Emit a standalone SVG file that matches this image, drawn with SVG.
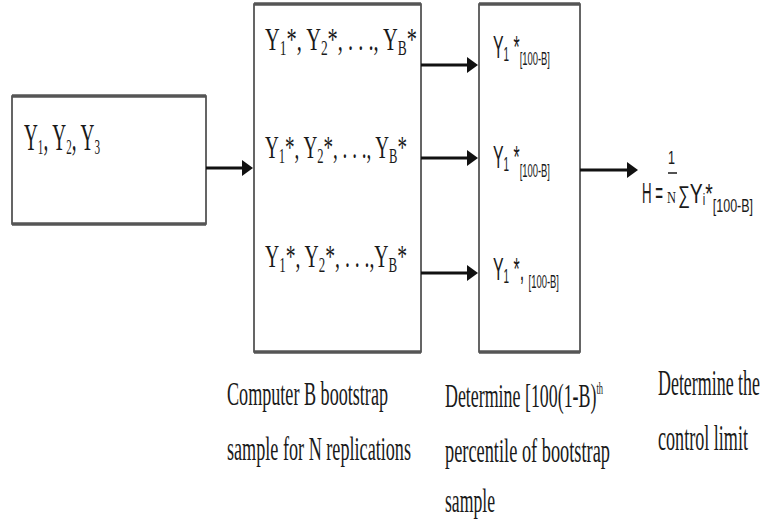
<svg xmlns="http://www.w3.org/2000/svg" width="763" height="527" viewBox="0 0 763 527">
<style>
.box{fill:#fff;stroke:#333;stroke-width:1.5}
.edge{stroke:#555;stroke-width:3.5}
.conn{stroke:#111;stroke-width:3;fill:none}
.serif{font-family:"Liberation Serif","Times New Roman",serif;fill:#1a1a1a}
.sans{font-family:"Liberation Sans",Arial,sans-serif;fill:#1a1a1a}
</style>
<defs>
<marker id="ah" viewBox="0 0 11 16" refX="1" refY="8" markerWidth="11" markerHeight="16" markerUnits="userSpaceOnUse" orient="auto">
<path d="M0,0 L11,8 L0,16 z" fill="#111"/>
</marker>
</defs>
<rect width="763" height="527" fill="#fff"/>

<g id="input">
<rect class="box" x="12" y="96" width="194" height="128"/>
<line class="edge" x1="12" y1="96" x2="206" y2="96"/>
<line class="edge" x1="12" y1="224" x2="206" y2="224"/>
<text class="serif" x="24" y="150" font-size="38" textLength="76" lengthAdjust="spacingAndGlyphs">Y<tspan font-size="22" dy="4">1</tspan><tspan dy="-4">, Y</tspan><tspan font-size="22" dy="4">2</tspan><tspan dy="-4">, Y</tspan><tspan font-size="22" dy="4">3</tspan></text>
</g>

<g id="bootstrap">
<rect class="box" x="254" y="4" width="167" height="348"/>
<line class="edge" x1="254" y1="4" x2="421" y2="4"/>
<line class="edge" x1="254" y1="352" x2="421" y2="352"/>
<text class="serif" x="265" y="50" font-size="32" textLength="152" lengthAdjust="spacingAndGlyphs">Y<tspan font-size="21" dy="5">1</tspan><tspan dy="-5">*, Y</tspan><tspan font-size="21" dy="5">2</tspan><tspan dy="-5">*, . . ., Y</tspan><tspan font-size="21" dy="5">B</tspan><tspan dy="-5">*</tspan></text>
<text class="serif" x="265" y="158" font-size="32" textLength="142" lengthAdjust="spacingAndGlyphs">Y<tspan font-size="21" dy="5">1</tspan><tspan dy="-5">*, Y</tspan><tspan font-size="21" dy="5">2</tspan><tspan dy="-5">*, . . ., Y</tspan><tspan font-size="21" dy="5">B</tspan><tspan dy="-5">*</tspan></text>
<text class="serif" x="265" y="267" font-size="32" textLength="142" lengthAdjust="spacingAndGlyphs">Y<tspan font-size="21" dy="5">1</tspan><tspan dy="-5">*, Y</tspan><tspan font-size="21" dy="5">2</tspan><tspan dy="-5">*, . . .,Y</tspan><tspan font-size="21" dy="5">B</tspan><tspan dy="-5">*</tspan></text>
</g>

<g id="percentile">
<rect class="box" x="479" y="4" width="101" height="348"/>
<line class="edge" x1="479" y1="4" x2="580" y2="4"/>
<line class="edge" x1="479" y1="352" x2="580" y2="352"/>
<text class="sans" x="493" y="58" font-size="32" textLength="57" lengthAdjust="spacingAndGlyphs">Y<tspan font-size="20" dy="3">1</tspan><tspan dy="-3"> *</tspan><tspan font-size="19" dy="7">[100-B]</tspan></text>
<text class="sans" x="493" y="168" font-size="32" textLength="57" lengthAdjust="spacingAndGlyphs">Y<tspan font-size="20" dy="3">1</tspan><tspan dy="-3"> *</tspan><tspan font-size="19" dy="9">[100-B]</tspan></text>
<text class="sans" x="493" y="280" font-size="32" textLength="66" lengthAdjust="spacingAndGlyphs">Y<tspan font-size="20" dy="3">1</tspan><tspan dy="-3"> *, </tspan><tspan font-size="19" dy="8">[100-B]</tspan></text>
</g>

<g id="formula">
<text class="sans" x="668" y="164" font-size="18" textLength="7" lengthAdjust="spacingAndGlyphs">1</text>
<line x1="668" y1="173" x2="677" y2="173" stroke="#1a1a1a" stroke-width="1.5"/>
<text class="sans" x="642" y="203" font-size="30" textLength="21" lengthAdjust="spacingAndGlyphs">H =</text>
<text class="serif" x="667" y="203" font-size="16" textLength="9" lengthAdjust="spacingAndGlyphs">N</text>
<text class="sans" x="678" y="203" font-size="28" textLength="75" lengthAdjust="spacingAndGlyphs"><tspan font-size="24">∑</tspan>Y<tspan font-size="16" dy="2">i</tspan><tspan dy="-2">*</tspan><tspan font-size="18" dy="9">[100-B]</tspan></text>
</g>

<g id="connectors">
<line class="conn" x1="206" y1="168" x2="243" y2="168" marker-end="url(#ah)"/>
<line class="conn" x1="421" y1="65" x2="468" y2="65" marker-end="url(#ah)"/>
<line class="conn" x1="421" y1="158" x2="468" y2="158" marker-end="url(#ah)"/>
<line class="conn" x1="421" y1="273" x2="468" y2="273" marker-end="url(#ah)"/>
<line class="conn" x1="580" y1="170" x2="628" y2="170" marker-end="url(#ah)"/>
</g>

<g id="labels">
<text class="serif" x="227" y="405" font-size="34" textLength="161" lengthAdjust="spacingAndGlyphs">Computer B bootstrap</text>
<text class="serif" x="227" y="460" font-size="34" textLength="184" lengthAdjust="spacingAndGlyphs">sample for N replications</text>
<text class="serif" x="445" y="407" font-size="34" textLength="158" lengthAdjust="spacingAndGlyphs">Determine [100(1-B)<tspan font-size="16" dy="-13">th</tspan></text>
<text class="serif" x="445" y="462" font-size="34" textLength="165" lengthAdjust="spacingAndGlyphs">percentile of bootstrap</text>
<text class="serif" x="445" y="512" font-size="34" textLength="50" lengthAdjust="spacingAndGlyphs">sample</text>
<text class="serif" x="658" y="395" font-size="36" textLength="102" lengthAdjust="spacingAndGlyphs">Determine the</text>
<text class="serif" x="658" y="450" font-size="36" textLength="90" lengthAdjust="spacingAndGlyphs">control limit</text>
</g>
</svg>
